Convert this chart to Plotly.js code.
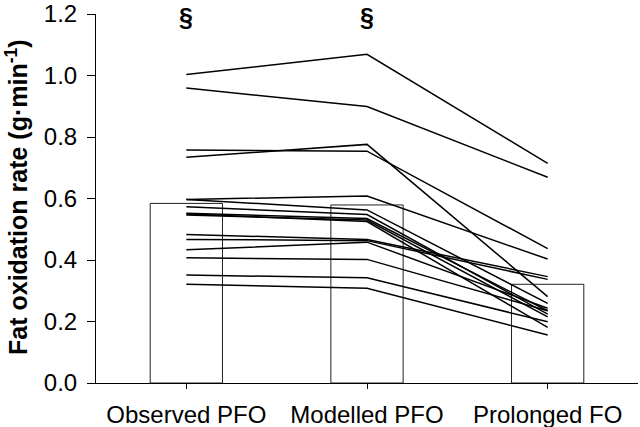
<!DOCTYPE html>
<html>
<head>
<meta charset="utf-8">
<script src="https://cdn.plot.ly/plotly-3.0.1.min.js"></script>
<style>html,body{margin:0;padding:0;background:#fff;}#chart{width:640px;height:427px;}</style>
</head>
<body>
<div id="chart"></div>
<script>
// Categories
const categories = ['Observed PFO', 'Modelled PFO', 'Prolonged FO'];
// Group means (bars)
const meanValues = [0.584, 0.579, 0.321];
// Individual subjects (one value per subject per condition)
const observedPFO  = [1.003, 0.959, 0.734, 0.758, 0.597, 0.597, 0.573, 0.552, 0.546, 0.550, 0.483, 0.467, 0.433, 0.407, 0.351, 0.321];
const modelledPFO  = [1.069, 0.899, 0.776, 0.754, 0.608, 0.563, 0.548, 0.535, 0.530, 0.525, 0.467, 0.463, 0.458, 0.402, 0.342, 0.308];
const prolongedFO  = [0.714, 0.669, 0.281, 0.437, 0.403, 0.259, 0.224, 0.235, 0.215, 0.181, 0.346, 0.337, 0.243, 0.235, 0.199, 0.156];
// Significance markers
const sigCategories = ['Observed PFO', 'Modelled PFO'];
const sigLabel = '§';

const traces = [{
  type: 'bar',
  x: categories,
  y: meanValues,
  width: 0.4,
  marker: {color: '#ffffff', line: {color: '#222222', width: 1}},
  hoverinfo: 'skip'
}];
for (let i = 0; i < observedPFO.length; i++) {
  traces.push({
    type: 'scatter',
    mode: 'lines',
    x: categories,
    y: [observedPFO[i], modelledPFO[i], prolongedFO[i]],
    line: {color: '#000000', width: 1.5},
    hoverinfo: 'skip'
  });
}

const annotations = sigCategories.map(c => ({
  x: c, y: 1.19, xref: 'x', yref: 'y',
  text: '<b>' + sigLabel + '</b>', showarrow: false,
  xanchor: 'center', yanchor: 'middle',
  font: {family: 'Liberation Sans, Arial, sans-serif', size: 25, color: '#000'}
}));
annotations.push({
  xref: 'paper', yref: 'paper', x: -0.147, y: 0.505,
  text: '<b>Fat oxidation rate (g·min<sup>-1</sup>)</b>',
  textangle: -90, showarrow: false, xanchor: 'center', yanchor: 'middle',
  font: {family: 'Liberation Sans, Arial, sans-serif', size: 25, color: '#000'}
});

const layout = {
  width: 640, height: 427,
  margin: {l: 96, r: 2, t: 14, b: 44},
  paper_bgcolor: '#fff', plot_bgcolor: '#fff',
  showlegend: false,
  font: {family: 'Liberation Sans, Arial, sans-serif', size: 24, color: '#000'},
  xaxis: {
    type: 'category', range: [-0.5, 2.5],
    showline: true, linecolor: '#000', linewidth: 1,
    ticks: 'outside', ticklen: 5, tickcolor: '#000', tickwidth: 1,
    showgrid: false, zeroline: false,
    tickfont: {size: 24}, ticklabelstandoff: 5
  },
  yaxis: {
    range: [0, 1.2], tickvals: [0, 0.2, 0.4, 0.6, 0.8, 1.0, 1.2],
    tickformat: '.1f',
    showline: true, linecolor: '#000', linewidth: 1,
    ticks: 'outside', ticklen: 8, tickcolor: '#000', tickwidth: 1,
    showgrid: false, zeroline: false,
    tickfont: {size: 24}, ticklabelstandoff: 5
  },
  annotations: annotations
};

Plotly.newPlot('chart', traces, layout, {staticPlot: true});
</script>
</body>
</html>
